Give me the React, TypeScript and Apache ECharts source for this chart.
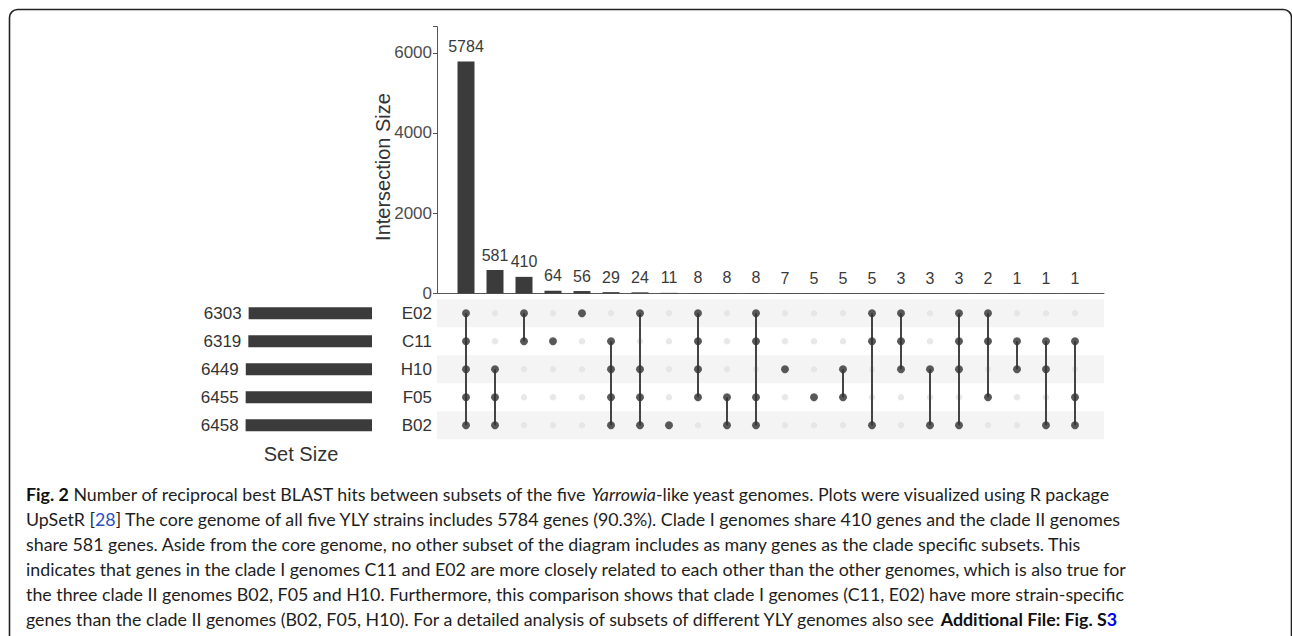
import { useEffect, useRef } from 'react';
import * as echarts from 'echarts';

const sets = ['E02', 'C11', 'H10', 'F05', 'B02'];
const setSizes = [6303, 6319, 6449, 6455, 6458];
const intersectionSizes = [5784, 581, 410, 64, 56, 29, 24, 11, 8, 8, 8, 7, 5, 5, 5, 3, 3, 3, 2, 1, 1, 1];
const intersectionMembers = [
  ['E02', 'C11', 'H10', 'F05', 'B02'],
  ['H10', 'F05', 'B02'],
  ['E02', 'C11'],
  ['C11'],
  ['E02'],
  ['C11', 'H10', 'F05', 'B02'],
  ['E02', 'H10', 'F05', 'B02'],
  ['B02'],
  ['E02', 'C11', 'H10', 'F05'],
  ['F05', 'B02'],
  ['E02', 'C11', 'F05', 'B02'],
  ['H10'],
  ['F05'],
  ['H10', 'F05'],
  ['E02', 'C11', 'B02'],
  ['E02', 'C11', 'H10'],
  ['H10', 'B02'],
  ['E02', 'C11', 'H10', 'B02'],
  ['E02', 'C11', 'F05'],
  ['C11', 'H10'],
  ['C11', 'H10', 'B02'],
  ['C11', 'F05', 'B02'],
];
const yTicks = [0, 2000, 4000, 6000];

// caption segments: [style, text]
const captionLines: [string, string][][] = [
  [['b', 'Fig. 2'], ['r', ' Number of reciprocal best BLAST hits between subsets of the five '], ['i', 'Yarrowia'], ['r', '-like yeast genomes. Plots were visualized using R package']],
  [['r', 'UpSetR ['], ['l', '28'], ['r', '] The core genome of all five YLY strains includes 5784 genes (90.3%). Clade I genomes share 410 genes and the clade II genomes']],
  [['r', 'share 581 genes. Aside from the core genome, no other subset of the diagram includes as many genes as the clade specific subsets. This']],
  [['r', 'indicates that genes in the clade I genomes C11 and E02 are more closely related to each other than the other genomes, which is also true for']],
  [['r', 'the three clade II genomes B02, F05 and H10. Furthermore, this comparison shows that clade I genomes (C11, E02) have more strain-specific']],
  [['r', 'genes than the clade II genomes (B02, F05, H10). For a detailed analysis of subsets of different YLY genomes also see '], ['b', 'Additional File: Fig. S'], ['bl', '3']],
];

const CAP_FONT = 'Lato';
const AX_FONT = 'Liberation Sans';

function fontFor(style: string, size: number) {
  if (style === 'b' || style === 'bl') return `bold ${size}px ${CAP_FONT}`;
  if (style === 'i') return `italic ${size}px ${CAP_FONT}`;
  return `${size}px ${CAP_FONT}`;
}

export default function App() {
  const ref = useRef<HTMLDivElement>(null);
  useEffect(() => {
    if (!ref.current) return;
    const chart = echarts.init(ref.current, null, { renderer: 'svg' });

    // fit caption font size so first line spans the reference width
    let capSize = 16.5;
    try {
      const cv = document.createElement('canvas');
      const ctx = cv.getContext('2d');
      if (ctx) {
        let w = 0;
        for (const [st, tx] of captionLines[0]) {
          ctx.font = fontFor(st, 100);
          w += ctx.measureText(tx).width;
        }
        if (w > 0) capSize = (100 * 1085) / w;
      }
    } catch (e) {}

    const rich: any = {
      r: { fontFamily: CAP_FONT, fontSize: capSize, fill: '#1e1e1e', color: '#1e1e1e' },
      b: { fontFamily: CAP_FONT, fontSize: capSize, fontWeight: 'bold', fill: '#111', color: '#111' },
      i: { fontFamily: CAP_FONT, fontSize: capSize, fontStyle: 'italic', fill: '#1e1e1e', color: '#1e1e1e' },
      l: { fontFamily: CAP_FONT, fontSize: capSize, fill: '#2b4fc7', color: '#2b4fc7' },
      bl: { fontFamily: CAP_FONT, fontSize: capSize, fontWeight: 'bold', fill: '#0000ee', color: '#0000ee' },
    };

    const captionGraphics = captionLines.map((line, k) => ({
      type: 'text',
      x: 26,
      y: 494 + 25 * k,
      style: {
        text: line.map(([st, tx]) => `{${st}|${tx}}`).join(''),
        rich,
        fontFamily: CAP_FONT,
        fontSize: capSize,
        fill: '#1e1e1e',
        verticalAlign: 'middle',
        align: 'left',
      },
    }));

    const n = intersectionSizes.length;
    const xMax = n + 1;

    const barData = intersectionSizes.map((v, i) => [i + 1, v]);
    const allDots: any[] = [];
    for (let i = 0; i < n; i++) for (const s of sets) allDots.push([i + 1, s]);
    const memberDots: any[] = [];
    intersectionMembers.forEach((m, i) => m.forEach((s) => memberDots.push([i + 1, s])));
    const lineData: any[] = [];
    intersectionMembers.forEach((m, i) => {
      if (m.length < 2) return;
      const idx = m.map((s) => sets.indexOf(s));
      lineData.push([i + 1, Math.min(...idx), Math.max(...idx)]);
    });
    const stripeData = sets.map((_, i) => (i % 2 === 0 ? xMax : '-'));

    const option: any = {
      animation: false,
      backgroundColor: '#fff',
      grid: [
        { left: 437, top: 26.7, width: 667, height: 266.6, outerBoundsMode: 'none', containLabel: false },
        { left: 437, top: 299.3, width: 667, height: 140, outerBoundsMode: 'none', containLabel: false },
        { left: 235, top: 299.3, width: 137, height: 140, outerBoundsMode: 'none', containLabel: false },
      ],
      xAxis: [
        {
          gridIndex: 0, type: 'value', min: 0, max: xMax,
          axisLine: { show: true, lineStyle: { color: '#555', width: 1 } },
          axisTick: { show: false }, axisLabel: { show: false }, splitLine: { show: false },
        },
        { gridIndex: 1, type: 'value', min: 0, max: xMax, show: false, splitLine: { show: false } },
        { gridIndex: 2, type: 'value', min: 0, max: 7000, inverse: true, show: false, splitLine: { show: false } },
      ],
      yAxis: [
        {
          gridIndex: 0, type: 'value', min: 0, max: 6650, interval: 2000,
          axisLine: { show: true, lineStyle: { color: '#555', width: 1 } },
          axisTick: { show: true, length: 4, lineStyle: { color: '#555' } },
          axisLabel: {
            fontFamily: AX_FONT, fontSize: 17, color: '#4d4d4d', margin: 5,
            formatter: (v: number) => (yTicks.includes(v) ? String(v) : ''),
          },
          splitLine: { show: false },
        },
        {
          gridIndex: 1, type: 'category', data: sets, inverse: true,
          axisLine: { show: false }, axisTick: { show: false },
          axisLabel: { fontFamily: AX_FONT, fontSize: 17, color: '#333', margin: 5 },
        },
        { gridIndex: 2, type: 'category', data: sets, inverse: true, show: false },
      ],
      series: [
        {
          type: 'bar', xAxisIndex: 0, yAxisIndex: 0, data: barData, barWidth: 17,
          itemStyle: { color: '#3b3b3b' },
          label: {
            show: true, position: 'top', distance: 7,
            fontFamily: AX_FONT, fontSize: 16, color: '#3a3a3a',
            formatter: (p: any) => String(p.value[1]),
          },
        },
        {
          type: 'bar', xAxisIndex: 1, yAxisIndex: 1, data: stripeData, barWidth: '100%',
          itemStyle: { color: '#f4f4f4' }, silent: true, z: 0,
        },
        {
          type: 'scatter', xAxisIndex: 1, yAxisIndex: 1, data: allDots, symbolSize: 6.5,
          itemStyle: { color: '#e2e2e2' }, silent: true, z: 2,
        },
        {
          type: 'custom', xAxisIndex: 1, yAxisIndex: 1, data: lineData, z: 3,
          encode: { x: 0, y: 1 },
          renderItem: (params: any, api: any) => {
            const x = api.value(0);
            const p1 = api.coord([x, api.value(1)]);
            const p2 = api.coord([x, api.value(2)]);
            return {
              type: 'line',
              shape: { x1: p1[0], y1: p1[1], x2: p2[0], y2: p2[1] },
              style: { stroke: '#444', lineWidth: 2 },
            };
          },
        },
        {
          type: 'scatter', xAxisIndex: 1, yAxisIndex: 1, data: memberDots, symbolSize: 8,
          itemStyle: { color: '#333' }, z: 4,
        },
        {
          type: 'bar', xAxisIndex: 2, yAxisIndex: 2, data: setSizes, barWidth: 12,
          itemStyle: { color: '#3b3b3b' },
          label: { show: true, position: 'left', distance: 7, fontFamily: AX_FONT, fontSize: 17, color: '#333' },
        },
      ],
      graphic: [
        {
          type: 'rect', shape: { x: 9.5, y: 9.5, width: 1282, height: 720, r: 8 },
          style: { fill: 'none', stroke: '#222', lineWidth: 1.6 }, silent: true,
        },
        {
          type: 'text', x: 383, y: 167, rotation: Math.PI / 2,
          style: { text: 'Intersection Size', fontFamily: AX_FONT, fontSize: 20, fill: '#333', align: 'center', verticalAlign: 'middle' },
        },
        {
          type: 'text', x: 301, y: 454,
          style: { text: 'Set Size', fontFamily: AX_FONT, fontSize: 20, fill: '#333', align: 'center', verticalAlign: 'middle' },
        },
        ...captionGraphics,
      ],
    };
    chart.setOption(option);
    return () => chart.dispose();
  }, []);
  return <div ref={ref} style={{ position: 'fixed', left: 0, top: 0, width: 1292, height: 636, background: '#fff' }} />;
}
